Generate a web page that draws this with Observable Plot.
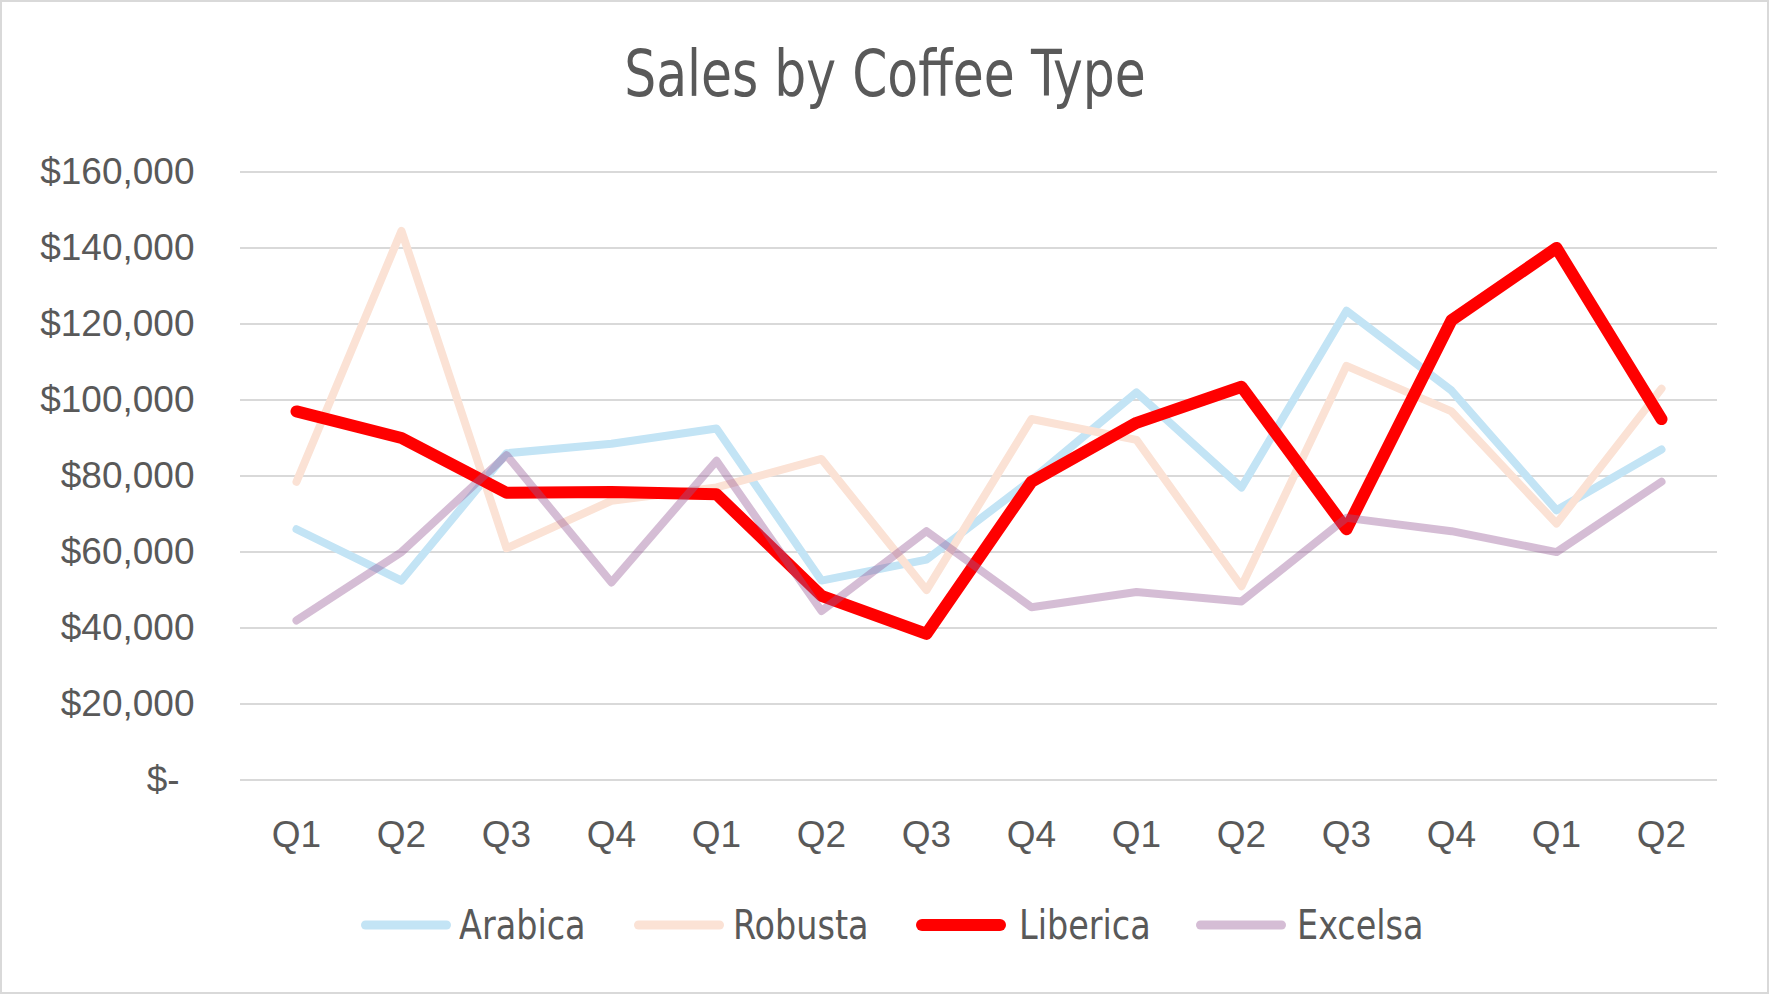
<!DOCTYPE html>
<html>
<head>
<meta charset="utf-8">
<script src="https://cdn.jsdelivr.net/npm/d3@7"></script>
<script src="https://cdn.jsdelivr.net/npm/@observablehq/plot@0.6"></script>
<style>
  html, body { margin: 0; padding: 0; background: #fff; }
  #frame { position: relative; width: 1769px; height: 994px; overflow: hidden; background: #fff; }
  #border { position: absolute; left: 0; top: 0; width: 1769px; height: 994px; box-sizing: border-box; border: 2px solid #d9d9d9; pointer-events: none; }
  #title { position: absolute; left: 0; top: 38px; width: 1769px; text-align: center; font-family: "Liberation Sans Narrow", "DejaVu Sans Condensed", "Roboto Condensed", "Liberation Sans", sans-serif; font-size: 64px; line-height: 72px; color: #595959; }
  #title span { display: inline-block; transform: scaleX(0.875); transform-origin: center; white-space: nowrap; }
  #chart { position: absolute; left: 0; top: 130px; }
  #legend { position: absolute; left: 0; top: 898px; width: 1769px; height: 54px; font-family: "Liberation Sans Narrow", "DejaVu Sans Condensed", "Roboto Condensed", "Liberation Sans", sans-serif; font-size: 40px; color: #595959; line-height: 54px; }
  .sw { position: absolute; top: 17px; height: 20px; line-height: 0; }
  .sw svg { display: block; }
  .lbl { position: absolute; top: 0; white-space: nowrap; transform: scaleX(0.93); transform-origin: left center; }
</style>
</head>
<body>
<div id="frame">
  <div id="title"><span>Sales by Coffee Type</span></div>
  <div id="chart"></div>
  <div id="legend"></div>
  <div id="border"></div>
</div>
<script>
const quarters = ["Q1","Q2","Q3","Q4","Q1","Q2","Q3","Q4","Q1","Q2","Q3","Q4","Q1","Q2"];
const seriesNames = ["Arabica","Robusta","Liberica","Excelsa"];
const arabica  = [66000, 52500, 86000, 88500, 92500, 52500, 58000, 79000, 102000, 77000, 123500, 102500, 71000, 87000];
const robusta  = [78500, 144500, 61000, 73500, 77000, 84500, 50000, 95000, 89500, 51000, 109000, 97000, 67500, 103000];
const liberica = [97000, 90000, 75600, 75800, 75200, 48500, 38500, 78500, 94000, 103500, 66000, 121000, 140000, 95000];
const excelsa  = [42000, 60000, 85500, 52000, 84000, 44500, 65500, 45500, 49500, 47000, 69000, 65500, 60000, 78500];
const yTicks = [0, 20000, 40000, 60000, 80000, 100000, 120000, 140000, 160000];

const seriesValues = [arabica, robusta, liberica, excelsa];
const colors = ["#c3e4f5", "#fbe2d5", "#ff0000", "rgb(150,90,150)"];
const opacities = [1, 1, 1, 0.4];
const widths = [8, 8, 12, 8];

const rows = [];
seriesNames.forEach((name, s) => {
  seriesValues[s].forEach((v, i) => rows.push({series: name, idx: i, value: v}));
});

const fmt = d3.format(",");
const lineMarks = seriesNames.map((name, s) =>
  Plot.line(rows.filter(r => r.series === name), {
    x: "idx", y: "value",
    stroke: colors[s], strokeOpacity: opacities[s], strokeWidth: widths[s],
    strokeLinejoin: "round", strokeLinecap: "round"
  })
);

const chart = Plot.plot({
  width: 1769,
  height: 760,
  marginTop: 41.5,
  marginBottom: 110.4,
  marginLeft: 240,
  marginRight: 52,
  style: { fontFamily: "'Liberation Sans', Arial, sans-serif", fontSize: "37px", color: "#595959", background: "transparent" },
  x: { type: "point", domain: d3.range(quarters.length), padding: 0.5, label: null },
  y: { domain: [0, 160000], label: null },
  marks: [
    Plot.gridY(yTicks, { stroke: "#d9d9d9", strokeOpacity: 1, strokeWidth: 2 }),
    Plot.axisY(yTicks, { tickSize: 0, tickPadding: 46, label: null,
      tickFormat: d => d === 0 ? "$-\u2009\u2009" : "$" + fmt(d) }),
    Plot.axisX({ tickSize: 0, tickPadding: 41, label: null, tickFormat: i => quarters[i] }),
    ...lineMarks
  ]
});
document.getElementById("chart").appendChild(chart);

// legend layout (swatch left, text left) in page pixels
const swatchLeft = [361, 634, 916, 1196];
const textLeft = [459, 733, 1019, 1297];
const legend = document.getElementById("legend");
seriesNames.forEach((name, s) => {
  const w = s === 2 ? 12 : 9;
  const sw = document.createElement("div");
  sw.className = "sw";
  sw.style.left = swatchLeft[s] + "px";
  sw.innerHTML = `<svg width="92" height="20"><line x1="${w/2}" y1="10" x2="${90-w/2}" y2="10" stroke="${colors[s]}" stroke-opacity="${opacities[s]}" stroke-width="${w}" stroke-linecap="round"/></svg>`;
  legend.appendChild(sw);
  const lbl = document.createElement("div");
  lbl.className = "lbl";
  lbl.style.left = textLeft[s] + "px";
  lbl.textContent = name;
  legend.appendChild(lbl);
});
</script>
</body>
</html>
